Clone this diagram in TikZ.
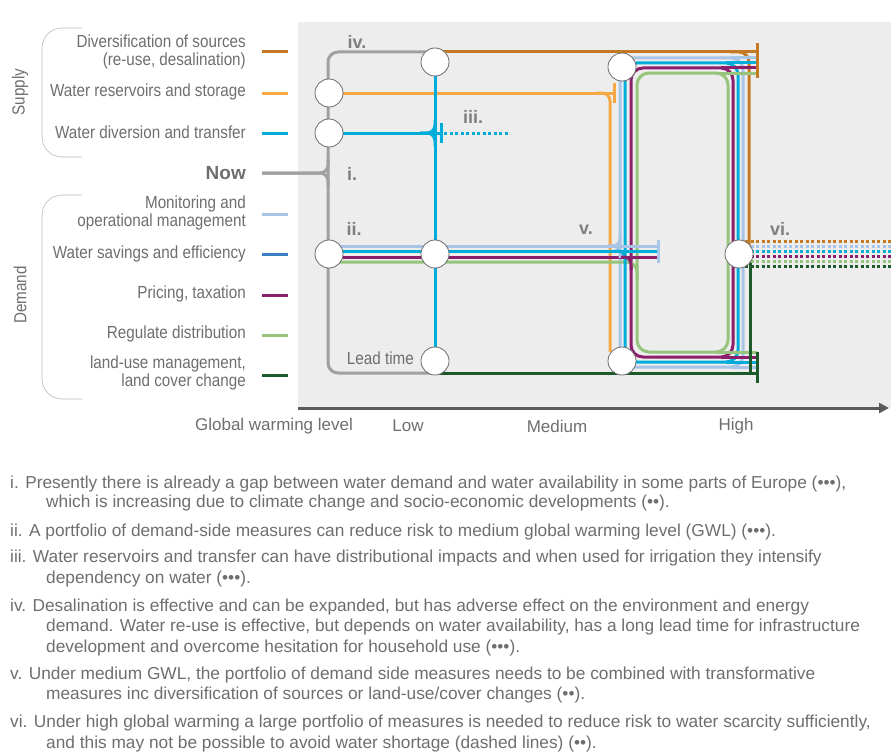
\documentclass[tikz,border=0pt]{standalone}
\usepackage{fontspec}
\setmainfont{Liberation Sans}
\newfontfamily\narrowfont{Liberation Sans}[FakeStretch=0.87]
\usetikzlibrary{arrows.meta}

\definecolor{panelgray}{HTML}{EDEDED}
\definecolor{txtgray}{HTML}{6E6E6E}
\definecolor{tagcol}{HTML}{7F7F7F}
\definecolor{nowgray}{HTML}{A0A0A0}
\definecolor{divbrown}{HTML}{C47A23}
\definecolor{resorange}{HTML}{F5A844}
\definecolor{transcyan}{HTML}{00ADDA}
\definecolor{monblue}{HTML}{A8C4E6}
\definecolor{savblue}{HTML}{3C7EC3}
\definecolor{pricepurple}{HTML}{8C1F6C}
\definecolor{reggreen}{HTML}{96C47C}
\definecolor{landgreen}{HTML}{1D5A2A}
\definecolor{axisgray}{HTML}{5A5A5A}

\tikzset{
  routeline/.style={line width=3pt},
  futureline/.style={line width=3pt, dash pattern=on 3pt off 2.5pt},
  tickline/.style={line width=3pt},
  stopnode/.style={circle, draw=gray!85!black, fill=white, line width=0.8pt, minimum size=28pt, inner sep=0pt},
  keystub/.style={line width=3pt},
  legendtext/.style={anchor=east, align=right, inner sep=0pt, text=txtgray, font=\narrowfont\fontsize{17.5}{18.5}\selectfont},
  tagtext/.style={text=tagcol, font=\bfseries\fontsize{18}{18}\selectfont},
  axistext/.style={text=txtgray, font=\fontsize{17}{17}\selectfont},
  notetext/.style={anchor=base west, text=txtgray, inner sep=0pt, font=\fontsize{17.3}{19}\selectfont},
  bracket/.style={draw=gray!55, line width=0.6pt, rounded corners=20},
}

\begin{document}
\begin{tikzpicture}[x=1pt,y=-1pt]
\useasboundingbox (0,0) rectangle (891,752);

% panel and axis
\fill[panelgray] (298,22) rectangle (891,408);
\coordinate (axisL) at (298,408);
\coordinate (axisR) at (889,408);
\draw[axisgray, line width=3pt, -{Triangle[length=10pt,width=10pt]}] (axisL) -- (axisR);

% stops
\coordinate (stopRes) at (329,93);
\coordinate (stopTra) at (329,133);
\coordinate (stopDiv) at (435,62);
\coordinate (stopDemNow) at (329,254);
\coordinate (stopDemLow) at (435,254);
\coordinate (stopLead) at (435,361);
\coordinate (stopMedTop) at (622,67);
\coordinate (stopMedBot) at (622,361);
\coordinate (stopHigh) at (739,254);

% now line
\draw[routeline, nowgray, rounded corners=10] (433,52) -- (328,52) -- (328,373) -- (433,373);
\draw[routeline, nowgray, rounded corners=8] (262,173) -- (328,173) -- (328,160);
\draw[routeline, nowgray, rounded corners=8] (262,173) -- (328,173) -- (328,186);

% diversification
\coordinate (divTick) at (757,52);
\draw[routeline, divbrown] (stopDiv |- divTick) -- (divTick);
\draw[routeline, divbrown, rounded corners=10] (730,52) -- (749,52) -- (749,250);
\draw[futureline, divbrown] (745,241) -- (891,241);

% reservoirs
\coordinate (resTick) at (614,93);
\draw[routeline, resorange] (stopRes) -- (resTick);
\draw[routeline, resorange, rounded corners=8] (596,93) -- (610,93) -- (610,352);

% transfer
\coordinate (traTick) at (441,133);
\draw[routeline, transcyan] (stopDiv) -- (stopLead);
\draw[routeline, transcyan] (stopTra) -- (traTick);
\draw[routeline, transcyan, rounded corners=8] (420,133) -- (435,133) -- (435,120);
\draw[routeline, transcyan, rounded corners=8] (420,133) -- (435,133) -- (435,146);
\draw[futureline, transcyan] (444,133) -- (510,133);

% loops to high level
\foreach \col/\xl/\xr/\yt/\yb in {monblue/620/743/58/367, transcyan/625/738/63/362,
    pricepurple/631/733/68/357, reggreen/637/728/73/352}{
  \draw[routeline, \col, rounded corners=12] (\xl,\yt) rectangle (\xr,\yb);
  \draw[routeline, \col] (\xr-12,\yt) -- (757,\yt);
  \draw[routeline, \col] (\xr-12,\yb) -- (757,\yb);
}

% demand portfolio
\coordinate (demTick) at (658,251);
\draw[routeline, monblue] (stopDemNow |- 0,246) -- (demTick |- 0,246);
\draw[routeline, transcyan] (stopDemNow |- 0,251) -- (demTick |- 0,251);
\draw[routeline, pricepurple] (stopDemNow |- 0,257) -- (demTick |- 0,257);
\draw[routeline, reggreen, rounded corners=10] (stopDemNow |- 0,262) -- (637,262) -- (637,280);
\draw[routeline, monblue, rounded corners=7] (608,246) -- (620,246) -- (620,234);
\draw[routeline, monblue, rounded corners=7] (608,246) -- (620,246) -- (620,258);
\draw[routeline, transcyan, rounded corners=7] (614,251) -- (625,251) -- (625,264);
\draw[routeline, pricepurple, rounded corners=7] (621,257) -- (631,257) -- (631,270);

% land use
\coordinate (landTick) at (757,373);
\draw[routeline, landgreen] (stopLead |- landTick) -- (landTick);
\draw[routeline, landgreen] (750,262) -- (750,373);

% high level, dashed
\foreach \col/\yy in {monblue/246, transcyan/251, pricepurple/256, reggreen/261, landgreen/266}{
  \draw[futureline, \col] (745,\yy) -- (891,\yy);
}

% ticks
\draw[tickline, divbrown] ([yshift=9pt]divTick) -- ([yshift=-26pt]divTick);
\draw[tickline, resorange] ([yshift=10pt]resTick) -- ([yshift=-10pt]resTick);
\draw[tickline, transcyan] ([yshift=10pt]traTick) -- ([yshift=-10pt]traTick);
\draw[tickline, monblue] ([yshift=11pt]demTick) -- ([yshift=-12pt]demTick);
\draw[tickline, landgreen] ([yshift=21pt]landTick) -- ([yshift=-10pt]landTick);

% stop circles
\foreach \s in {stopRes, stopTra, stopDiv, stopDemNow, stopDemLow, stopLead, stopMedTop, stopMedBot, stopHigh}{
  \node[stopnode] (\s-c) at (\s) {};
}

% tags
\node[tagtext] (tagIV) at (357,42) {iv.};
\node[tagtext] (tagIII) at (473,117) {iii.};
\node[tagtext] (tagI) at (352,174) {i.};
\node[tagtext] (tagII) at (354,229) {ii.};
\node[tagtext] (tagV) at (586,230) {v.};
\node[tagtext] (tagVI) at (780,229) {vi.};
\node[legendtext, anchor=east] (leadLbl) at (414,358) {Lead time};

% legend
\foreach \col/\yy in {divbrown/52, resorange/93, transcyan/133, monblue/214,
    savblue/254, pricepurple/295, reggreen/335, landgreen/375}{
  \draw[keystub, \col] (262,\yy) -- (288,\yy);
}
\node[legendtext] (lgDiv) at (246,52) {Diversification of sources\\(re-use, desalination)};
\node[legendtext] (lgRes) at (246,92) {Water reservoirs and storage};
\node[legendtext] (lgTra) at (246,132) {Water diversion and transfer};
\node[legendtext, font=\bfseries\fontsize{19}{19}\selectfont] (lgNow) at (246,173) {Now};
\node[legendtext] (lgMon) at (246,213) {Monitoring and\\operational management};
\node[legendtext] (lgSav) at (246,254) {Water savings and efficiency};
\node[legendtext] (lgPri) at (246,294) {Pricing, taxation};
\node[legendtext] (lgReg) at (246,334) {Regulate distribution};
\node[legendtext] (lgLand) at (246,373) {land-use management,\\land cover change};

\draw[bracket] (82,28) -- (42,28) -- (42,157) -- (82,157);
\draw[bracket] (82,195) -- (42,195) -- (42,399) -- (82,399);
\node[legendtext, anchor=center, rotate=90] (supplyLbl) at (20,92) {Supply};
\node[legendtext, anchor=center, rotate=90] (demandLbl) at (20,295) {Demand};

% axis labels
\node[axistext] (axGwl) at (274,426) {Global warming level};
\node[axistext] (axLow) at (408,426) {Low};
\node[axistext] (axMed) at (557,426) {Medium};
\node[axistext] (axHigh) at (736,426) {High};

% notes
\node[notetext] (n1) at (10,488) {i. Presently there is already a gap between water demand and water availability in some parts of Europe (•••),};
\node[notetext] (n1b) at (46,507) {which is increasing due to climate change and socio-economic developments (••).};
\node[notetext] (n2) at (10,536) {ii. A portfolio of demand-side measures can reduce risk to medium global warming level (GWL) (•••).};
\node[notetext] (n3) at (10,562) {iii. Water reservoirs and transfer can have distributional impacts and when used for irrigation they intensify};
\node[notetext] (n3b) at (46,583) {dependency on water (•••).};
\node[notetext] (n4) at (10,611) {iv. Desalination is effective and can be expanded, but has adverse effect on the environment and energy};
\node[notetext] (n4b) at (46,631) {demand. Water re-use is effective, but depends on water availability, has a long lead time for infrastructure};
\node[notetext] (n4c) at (46,652) {development and overcome hesitation for household use (•••).};
\node[notetext] (n5) at (10,679) {v. Under medium GWL, the portfolio of demand side measures needs to be combined with transformative};
\node[notetext] (n5b) at (46,699) {measures inc diversification of sources or land-use/cover changes (••).};
\node[notetext] (n6) at (10,727) {vi. Under high global warming a large portfolio of measures is needed to reduce risk to water scarcity sufficiently,};
\node[notetext] (n6b) at (46,748) {and this may not be possible to avoid water shortage (dashed lines) (••).};
\end{tikzpicture}
\end{document}
